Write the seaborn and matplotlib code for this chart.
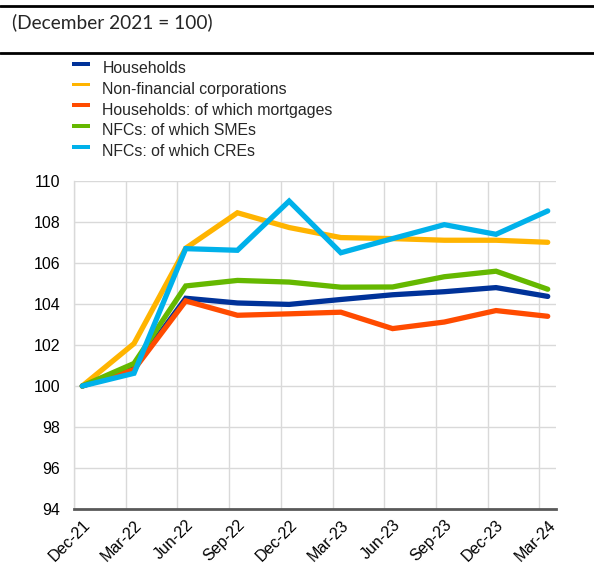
import matplotlib
matplotlib.use('Agg')
import matplotlib.pyplot as plt
from matplotlib.patches import Patch, Rectangle
from matplotlib.lines import Line2D
from matplotlib.legend_handler import HandlerPatch
import seaborn as sns
import pandas as pd
import numpy as np

# quarters on the x axis
quarters = ['Dec-21', 'Mar-22', 'Jun-22', 'Sep-22', 'Dec-22',
            'Mar-23', 'Jun-23', 'Sep-23', 'Dec-23', 'Mar-24']

# index values (December 2021 = 100)
households = [100, 100.85, 104.28, 104.05, 103.98, 104.22, 104.45, 104.60, 104.80, 104.37]
nfc = [100, 102.07, 106.72, 108.45, 107.73, 107.24, 107.19, 107.11, 107.11, 107.01]
mortgages = [100, 100.80, 104.15, 103.45, 103.52, 103.60, 102.80, 103.12, 103.68, 103.40]
smes = [100, 101.10, 104.88, 105.15, 105.07, 104.82, 104.83, 105.33, 105.60, 104.72]
cres = [100, 100.62, 106.70, 106.62, 109.02, 106.50, 107.19, 107.87, 107.40, 108.54]

series_names = ['Households', 'Non-financial corporations',
                'Households: of which mortgages', 'NFCs: of which SMEs',
                'NFCs: of which CREs']
series_colors = ['#003299', '#FFB400', '#FF4B00', '#65B800', '#00B1EA']

# long table for seaborn
rows = []
for name, vals in zip(series_names, [households, nfc, mortgages, smes, cres]):
    for i, v in enumerate(vals):
        rows.append({'pos': i, 'series': name, 'value': v})
df = pd.DataFrame(rows)

sns.set_style('white')
plt.rcParams['font.family'] = ['Liberation Sans', 'DejaVu Sans']

fig = plt.figure(figsize=(5.94, 5.67), dpi=100)
ax = fig.add_axes([74 / 594, 1 - 509 / 567, (556 - 74) / 594, (509 - 181) / 567])

sns.lineplot(data=df, x='pos', y='value', hue='series', hue_order=series_names,
             palette=series_colors, linewidth=3.8, ax=ax, legend=False,
             solid_joinstyle='miter')

# grid lines (vertical ones sit a bit left of the data points)
ax.set_ylim(94, 110)
ax.set_xlim(-0.16, 9.16)
ax.set_yticks(np.arange(94, 111, 2))
ax.set_xticks(range(len(quarters)))
ax.set_xticklabels(quarters, rotation=45, ha='right', rotation_mode='anchor')
ax.set_xticks([i - 0.16 for i in range(len(quarters))], minor=True)
ax.grid(False)
ax.yaxis.grid(True, color='#d9d9d9', linewidth=1)
ax.xaxis.grid(True, which='minor', color='#d9d9d9', linewidth=1)
ax.set_axisbelow(True)
ax.tick_params(axis='both', which='both', length=0, labelsize=11.5, colors='black')
ax.tick_params(axis='y', pad=10)
ax.tick_params(axis='x', pad=6)
ax.set_xlabel('')
ax.set_ylabel('')

for side in ['top', 'right']:
    ax.spines[side].set_visible(False)
ax.spines['left'].set_color('#d9d9d9')
ax.spines['left'].set_linewidth(1)
ax.spines['bottom'].set_color('#595959')
ax.spines['bottom'].set_linewidth(2)


# legend bars sit a little above the text middle
def small_bar(legend, orig_handle, xdescent, ydescent, width, height, fontsize):
    return Rectangle((-xdescent, -ydescent + 0.68 * height), width, 0.36 * height)


handles = [Patch(facecolor=c, edgecolor='none') for c in series_colors]
leg = fig.legend(handles, series_names, loc='upper left',
                 bbox_to_anchor=(66 / 594, 1 - 55 / 567), frameon=False,
                 fontsize=11.4, handlelength=1.1, handleheight=0.7,
                 handletextpad=0.8, labelspacing=0.36, borderaxespad=0,
                 handler_map={Patch: HandlerPatch(patch_func=small_bar)})

# header with two black rules
fig.add_artist(Line2D([0, 1], [1 - 6 / 567, 1 - 6 / 567], color='black', linewidth=2,
                      transform=fig.transFigure))
fig.add_artist(Line2D([0, 1], [1 - 53 / 567, 1 - 53 / 567], color='black', linewidth=2,
                      transform=fig.transFigure))
fig.text(12 / 594, 1 - 22 / 567, '(December 2021 = 100)', fontsize=13.8,
         family=['Lato', 'DejaVu Sans'], va='center', ha='left')

fig.savefig('out.png', dpi=100)
